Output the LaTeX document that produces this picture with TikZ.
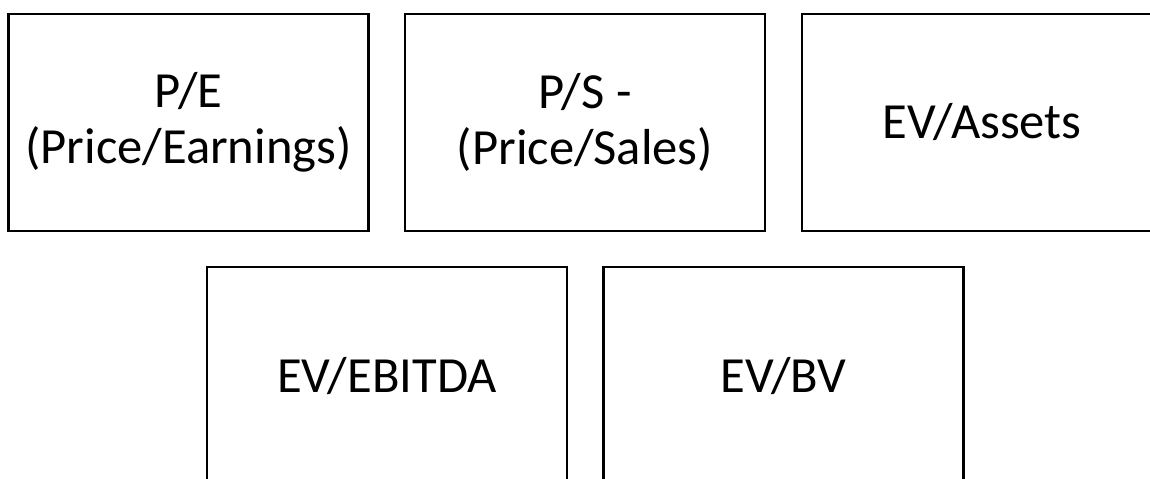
\documentclass[tikz,border=0pt]{standalone}
\usepackage{fontspec}
\setmainfont{Carlito}
\tikzset{
    ratio/.style={draw, line width=1.1pt, minimum width=180pt, minimum height=108.5pt,
        align=center, inner sep=0pt, font=\fontsize{25.3pt}{28pt}\selectfont},
}
\begin{document}
\begin{tikzpicture}[x=0.5pt,y=-0.5pt]
                \useasboundingbox (0,0) rectangle (1150,478);
                \clip (0,0) rectangle (1150,478);
                % top row
                \node[ratio] (pe) at (188.5,122.5) {P/E\\(Price/Earnings)};
                \node[ratio] (ps) at (585,122.5) {P/S -\\(Price/Sales)};
                \node[ratio] (assets) at (982,122.5) {EV/Assets};
                % bottom row
                \node[ratio] (ebitda) at (387,375.5) {EV/EBITDA};
                \node[ratio] (bv) at (783.5,375.5) {EV/BV};
            \end{tikzpicture}
\end{document}
